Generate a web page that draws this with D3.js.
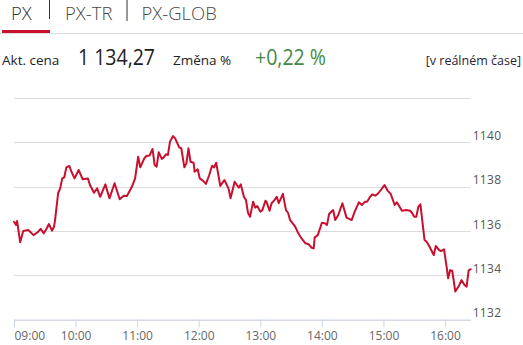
<!DOCTYPE html>
<html>
<head>
<meta charset="utf-8">
<script src="https://cdn.jsdelivr.net/npm/d3@7"></script>
<style>
  html, body { margin: 0; padding: 0; background: #fff; }
  svg { display: block; font-family: "Open Sans", "DejaVu Sans", sans-serif; }
</style>
</head>
<body>
<svg id="chart" width="523" height="345"></svg>
<script>
// ---- data ----
const tabs = ["PX", "PX-TR", "PX-GLOB"];
const priceLabel = "Akt. cena";
const priceValue = "1 134,27";
const changeLabel = "Změna %";
const changeValue = "+0,22 %";
const realtimeLabel = "[v reálném čase]";

const times = [
  "09:00","09:02","09:03","09:06","09:09","09:14","09:19","09:23","09:26","09:29",
  "09:32","09:34","09:37","09:39","09:40","09:43","09:45","09:47","09:49","09:51",
  "09:54","09:56","09:59","10:03","10:07","10:12","10:14","10:18","10:21","10:24",
  "10:29","10:33","10:38","10:43","10:47","10:50","10:55","10:58","11:01","11:03",
  "11:07","11:09","11:12","11:15","11:17","11:19","11:21","11:24","11:26","11:28",
  "11:30","11:32","11:35","11:37","11:41","11:43","11:46","11:48","11:50","11:52",
  "11:55","11:56","11:59","12:01","12:04","12:07","12:10","12:13","12:15","12:17",
  "12:21","12:25","12:29","12:31","12:35","12:39","12:41","12:44","12:46","12:48",
  "12:50","12:53","12:55","12:57","13:00","13:02","13:05","13:06","13:09","13:11",
  "13:14","13:16","13:18","13:22","13:25","13:27","13:29","13:31","13:34","13:37",
  "13:40","13:44","13:47","13:50","13:52","13:53","13:56","14:00","14:03","14:05",
  "14:07","14:11","14:13","14:16","14:20","14:24","14:29","14:32","14:36","14:39",
  "14:42","14:44","14:47","14:49","14:52","14:55","14:58","15:01","15:04","15:07",
  "15:11","15:13","15:16","15:18","15:22","15:26","15:27","15:30","15:32","15:34",
  "15:36","15:40","15:42","15:44","15:49","15:51","15:54","15:56","15:59","16:02",
  "16:03","16:05","16:07","16:10","16:14","16:16","16:19","16:21","16:23","16:25"
];
const values = [
  1136.41,1136.27,1136.45,1135.49,1136.00,1136.04,1135.81,1135.94,1136.09,1135.89,
  1136.12,1136.31,1136.01,1136.19,1136.49,1137.70,1137.92,1138.37,1138.42,1138.87,
  1138.93,1138.67,1138.37,1138.75,1138.33,1138.37,1138.07,1137.72,1137.92,1137.54,
  1138.10,1137.47,1138.15,1137.43,1137.59,1137.58,1138.00,1138.37,1139.35,1138.87,
  1139.28,1139.38,1139.40,1139.70,1138.98,1138.90,1139.55,1139.25,1139.32,1139.46,
  1139.43,1140.03,1140.28,1140.18,1139.77,1139.73,1138.87,1139.05,1139.73,1139.12,
  1139.08,1138.67,1138.78,1138.37,1138.27,1138.12,1138.49,1138.94,1138.87,1139.08,
  1138.03,1138.30,1137.92,1137.47,1138.22,1137.95,1138.10,1137.54,1137.40,1136.82,
  1136.64,1137.32,1137.05,1137.12,1136.87,1136.94,1137.36,1137.32,1136.91,1137.25,
  1137.40,1137.54,1137.25,1137.67,1136.94,1136.82,1136.49,1136.37,1136.19,1135.89,
  1135.67,1135.44,1135.40,1135.24,1135.21,1135.71,1135.81,1136.37,1136.34,1136.27,
  1136.76,1136.94,1136.49,1136.72,1137.25,1136.60,1136.49,1136.87,1137.29,1137.17,
  1137.32,1137.32,1137.54,1137.65,1137.59,1137.70,1137.88,1138.07,1137.82,1137.67,
  1137.17,1137.29,1137.07,1136.91,1136.94,1136.91,1136.87,1136.64,1136.64,1137.09,
  1137.20,1135.59,1135.51,1135.36,1134.91,1135.32,1135.14,1135.09,1135.17,1134.23,
  1133.86,1134.23,1134.20,1133.26,1133.56,1133.78,1133.56,1133.48,1134.22,1134.27
];
const xTickLabels = ["09:00","10:00","11:00","12:00","13:00","14:00","15:00","16:00"];
const yGridValues = [1132, 1134, 1136, 1138, 1140, 1142];
const yTickValues = [1132, 1134, 1136, 1138, 1140];
const xDomainLabels = ["09:00", "16:25"];
const yDomain = [1132, 1142];

// ---- layout ----
const svg = d3.select("#chart");
const W = 523;
const plot = { left: 14, right: 470.7, top: 98, bottom: 319.5 };

const parseT = d3.timeParse("%H:%M");
const data = times.map((t, i) => ({ t: parseT(t), v: values[i] }));

const x = d3.scaleTime()
  .domain(xDomainLabels.map(parseT))
  .range([plot.left, plot.right]);
const y = d3.scaleLinear()
  .domain(yDomain)
  .range([plot.bottom, plot.top]);

// ---- header ----
const tabX = [11, 65, 141.5];
svg.selectAll("text.tab").data(tabs).join("text")
  .attr("class", "tab")
  .attr("x", (d, i) => tabX[i])
  .attr("y", 19.5)
  .attr("font-size", 18.5)
  .attr("font-weight", 300)
  .attr("fill", (d, i) => i === 0 ? "#333" : "#4a4a4a")
  .text(d => d);
svg.append("line").attr("x1", 49.5).attr("x2", 49.5).attr("y1", 0).attr("y2", 19)
  .attr("stroke", "#333").attr("stroke-width", 1);
svg.append("line").attr("x1", 127).attr("x2", 127).attr("y1", 0).attr("y2", 21)
  .attr("stroke", "#333").attr("stroke-width", 1);
svg.append("line").attr("x1", 0).attr("x2", W).attr("y1", 33.5).attr("y2", 33.5)
  .attr("stroke", "#dddddd").attr("stroke-width", 1);
svg.append("rect").attr("x", 2).attr("y", 30).attr("width", 48).attr("height", 3)
  .attr("fill", "#c8102e");

svg.append("text").attr("x", 2).attr("y", 64.5).attr("font-size", 13.5)
  .attr("fill", "#222").text(priceLabel);
svg.append("text").attr("x", 78).attr("y", 65).attr("font-size", 22.5)
  .attr("fill", "#222")
  .attr("textLength", 77).attr("lengthAdjust", "spacingAndGlyphs").text(priceValue);
svg.append("text").attr("x", 173).attr("y", 64.5).attr("font-size", 13.5)
  .attr("fill", "#222").text(changeLabel);
svg.append("text").attr("x", 255).attr("y", 65).attr("font-size", 22.5)
  .attr("fill", "#3f8a45")
  .attr("textLength", 71).attr("lengthAdjust", "spacingAndGlyphs").text(changeValue);
svg.append("text").attr("x", 521).attr("y", 64.5).attr("font-size", 12.5)
  .attr("text-anchor", "end").attr("fill", "#2b2233").text(realtimeLabel);

// ---- grid ----
svg.append("g").selectAll("line").data(yGridValues).join("line")
  .attr("x1", plot.left).attr("x2", plot.right)
  .attr("y1", d => Math.round(y(d)) + 0.5).attr("y2", d => Math.round(y(d)) + 0.5)
  .attr("stroke", "#dcdcdc").attr("stroke-width", 1);

// ---- x axis ----
const xAxis = d3.axisBottom(x)
  .tickValues(xTickLabels.map(parseT))
  .tickFormat(d3.timeFormat("%H:%M"))
  .tickSize(8).tickSizeOuter(0).tickPadding(4);
const gx = svg.append("g").attr("transform", `translate(0,${Math.round(plot.bottom) - 0.5})`).call(xAxis);
gx.select(".domain").attr("stroke", "#ccd6eb");
gx.selectAll(".tick line").attr("stroke", "#ccd6eb");
gx.selectAll(".tick text").attr("fill", "#666").attr("font-size", 12)
  .attr("font-family", "'Open Sans', sans-serif");
gx.selectAll(".tick").filter((d, i) => i === 0).select("text").attr("text-anchor", "start");

// ---- y axis (right) ----
const yAxis = d3.axisRight(y).tickValues(yTickValues).tickSize(0).tickPadding(2)
  .tickFormat(d3.format("d"));
const gy = svg.append("g").attr("transform", `translate(${plot.right},0)`).call(yAxis);
gy.select(".domain").remove();
gy.selectAll(".tick text").attr("fill", "#555").attr("font-size", 12)
  .attr("font-family", "'Open Sans', sans-serif")
  .attr("dy", "-0.22em").attr("letter-spacing", 0.3);

// ---- line ----
const line = d3.line().x(d => x(d.t)).y(d => y(d.v));
svg.append("path").datum(data)
  .attr("d", line)
  .attr("fill", "none")
  .attr("stroke", "#c8102e")
  .attr("stroke-width", 2)
  .attr("stroke-linejoin", "round")
  .attr("stroke-linecap", "round");
</script>
</body>
</html>
